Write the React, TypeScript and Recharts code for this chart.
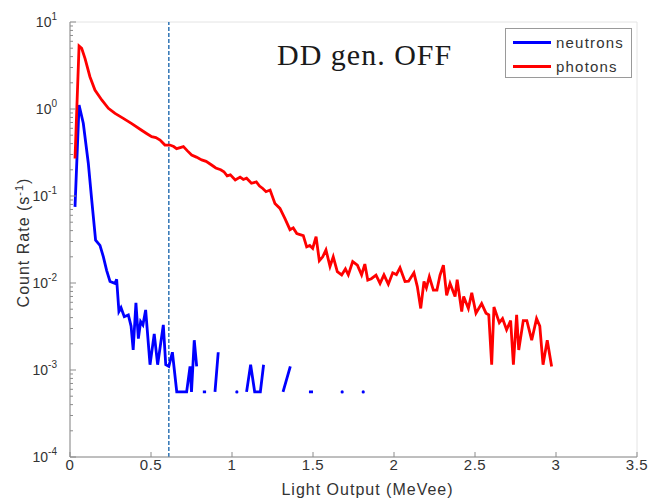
import React from 'react';
import { LineChart, Line, XAxis, YAxis, ReferenceLine, ReferenceArea, Legend } from 'recharts';

// light output (MeVee) / count rate (1/s)
const photonX = [
  0.031, 0.056, 0.072, 0.093, 0.123, 0.154, 0.196, 0.237, 0.278, 0.329, 0.381, 0.442, 0.475, 0.504, 0.53,
  0.556, 0.586, 0.617, 0.64, 0.658, 0.68, 0.7, 0.725, 0.751, 0.78, 0.813, 0.84, 0.874, 0.9, 0.93,
  0.95, 0.97, 0.99, 1.02, 1.05, 1.07, 1.09, 1.12, 1.15, 1.17, 1.19, 1.21, 1.235, 1.265, 1.296,
  1.327, 1.358, 1.378, 1.4, 1.42, 1.44, 1.461, 1.48, 1.498, 1.519, 1.539, 1.56, 1.58, 1.605, 1.625,
  1.65, 1.677, 1.7, 1.718, 1.745, 1.774, 1.8, 1.82, 1.838, 1.86, 1.889, 1.914, 1.938, 1.965, 1.992,
  2.015, 2.037, 2.068, 2.09, 2.123, 2.144, 2.165, 2.185, 2.2, 2.218, 2.243, 2.265, 2.284, 2.305, 2.325,
  2.346, 2.377, 2.39, 2.418, 2.43, 2.459, 2.48, 2.506, 2.541, 2.568, 2.585, 2.603, 2.617, 2.65, 2.67,
  2.695, 2.72, 2.737, 2.757, 2.77, 2.798, 2.82, 2.85, 2.88, 2.9, 2.92, 2.946, 2.973
];
const photonRate = [
  0.27, 5.3, 5.0, 3.8, 2.35, 1.65, 1.27, 1.02, 0.89, 0.78, 0.68, 0.57, 0.52, 0.48, 0.47,
  0.44, 0.385, 0.385, 0.37, 0.35, 0.36, 0.37, 0.33, 0.296, 0.28, 0.26, 0.25, 0.227, 0.21, 0.2,
  0.19, 0.17, 0.175, 0.153, 0.165, 0.155, 0.16, 0.14, 0.145, 0.13, 0.122, 0.112, 0.117, 0.082, 0.072,
  0.055, 0.041, 0.043, 0.037, 0.036, 0.035, 0.026, 0.027, 0.025, 0.034, 0.018, 0.02, 0.024, 0.0155, 0.02,
  0.0135, 0.0124, 0.0145, 0.0124, 0.0176, 0.016, 0.0124, 0.0165, 0.0108, 0.0112, 0.0123, 0.0099, 0.0124, 0.0097, 0.0131,
  0.0125, 0.015, 0.0104, 0.0105, 0.0131, 0.0091, 0.0051, 0.0104, 0.0088, 0.0118, 0.0083, 0.0083, 0.0123, 0.016, 0.0072,
  0.0099, 0.007, 0.0109, 0.0047, 0.007, 0.0051, 0.0077, 0.0045, 0.0058, 0.0045, 0.0043, 0.00115, 0.0053, 0.0035, 0.0039,
  0.0029, 0.0037, 0.00115, 0.0043, 0.0017, 0.0037, 0.0037, 0.0022, 0.0039, 0.0032, 0.00115, 0.0022, 0.0011
];

// null = empty bin (log of zero), the line breaks there
const neutronX = [
  0.031, 0.056, 0.082, 0.113, 0.134, 0.158, 0.185, 0.206, 0.226, 0.247, 0.278, 0.288, 0.302, 0.315, 0.335,
  0.36, 0.377, 0.39, 0.407, 0.422, 0.436, 0.45, 0.467, 0.494, 0.52, 0.541, 0.576, 0.591, 0.61, 0.632,
  0.659, 0.68, 0.7, 0.72, 0.741, 0.75, 0.767, 0.782, 0.8, 0.82, 0.84, 0.86, 0.895, 0.915, 0.94,
  1.03, 1.05, 1.09, 1.115, 1.14, 1.175, 1.195, 1.22, 1.315, 1.36, 1.38, 1.475, 1.5, 1.52, 1.66,
  1.68, 1.7, 1.79, 1.81, 1.83
];
const neutronRate: (number | null)[] = [
  0.075, 1.11, 0.686, 0.238, 0.09, 0.031, 0.027, 0.02, 0.014, 0.0104, 0.0099, 0.011, 0.0047, 0.0052, 0.0041,
  0.0043, 0.0032, 0.0017, 0.0059, 0.0023, 0.0036, 0.0033, 0.0049, 0.00115, 0.0026, 0.00115, 0.0033, 0.00115, 0.0011, 0.0016,
  0.00056, 0.00056, 0.00056, 0.00056, 0.0011, 0.00056, 0.0022, 0.0011, null, 0.00056, 0.00056, null, 0.00056, 0.0016, null,
  0.00056, null, 0.00056, 0.00115, 0.00056, 0.00056, 0.00115, null, 0.00056, 0.0011, null, 0.00056, 0.00056, null, null,
  0.00056, null, null, 0.00056, null
];

const xTicks = [0, 0.5, 1, 1.5, 2, 2.5, 3, 3.5];
const yDecades = [1e-4, 1e-3, 1e-2, 1e-1, 1, 10];
const yTicks = yDecades.flatMap((d) => (d < 10 ? [1, 2, 3, 4, 5, 6, 7, 8, 9].map((m) => m * d) : [d]));
const pulseShapeCut = 0.61;

const photonData = photonX.map((x, i) => ({ x, y: photonRate[i] }));
const neutronData = neutronX.map((x, i) => ({ x, y: neutronRate[i] }));

const sans = '"Liberation Sans", Arial, sans-serif';
const axisColor = '#8c8c8c';

const XTick = ({ x, y, payload }: any) => (
  <g>
    <line x1={x} x2={x} y1={y} y2={y - 5} stroke={axisColor} />
    <text x={x} y={y + 13} textAnchor="middle" fontFamily={sans} fontSize={15} letterSpacing={0.5} fill="#333">
      {payload.value}
    </text>
  </g>
);

const YTick = ({ x, y, payload }: any) => {
  const lg = Math.log10(payload.value);
  const exp = Math.round(lg);
  const major = Math.abs(lg - exp) < 1e-6;
  return (
    <g>
      <line x1={x} x2={x + (major ? 6 : 3)} y1={y} y2={y} stroke={axisColor} />
      {major && (
        <text x={x - 13} y={y + 5} textAnchor="end" fontFamily={sans} fontSize={14} fill="#333">
          10
          <tspan dy={-7} fontSize={10}>{exp}</tspan>
        </text>
      )}
    </g>
  );
};

const YLabel = ({ viewBox }: any) => {
  const cx = viewBox.x + 29;
  const cy = viewBox.y + viewBox.height / 2 + 3;
  return (
    <text x={cx} y={cy} transform={`rotate(-90 ${cx} ${cy})`} textAnchor="middle" fontFamily={sans} fontSize={16} letterSpacing={1} fill="#333">
      Count Rate (s
      <tspan dy={-6} fontSize={11}>-1</tspan>
      <tspan dy={6}>)</tspan>
    </text>
  );
};

const XLabel = ({ viewBox }: any) => (
  <text x={viewBox.x + viewBox.width / 2 + 14} y={viewBox.y + 38} textAnchor="middle" fontFamily={sans} fontSize={16} letterSpacing={1} fill="#333">
    Light Output (MeVee)
  </text>
);

const LegendBox = ({ payload }: any) => (
  <div style={{ width: 125, height: 48, border: '1px solid #9a9a9a', background: '#fff', fontFamily: sans, fontSize: 15, letterSpacing: 1.2, color: '#333' }}>
    {(payload || []).map((entry: any) => (
      <div key={entry.value} style={{ display: 'flex', alignItems: 'center', height: 22, marginTop: 2 }}>
        <span style={{ display: 'inline-block', width: 38, height: 3, background: entry.color, marginLeft: 7, marginRight: 5 }} />
        <span>{entry.value}</span>
      </div>
    ))}
  </div>
);

const renderNeutronDot = (props: any) => {
  const { cx, cy, index } = props;
  const prev = index > 0 ? neutronRate[index - 1] : null;
  const next = index < neutronRate.length - 1 ? neutronRate[index + 1] : null;
  const isolated = neutronRate[index] != null && prev == null && next == null;
  if (!isolated || cx == null || cy == null) return <g key={`nd-${index}`} />;
  return <circle key={`nd-${index}`} cx={cx} cy={cy} r={1.6} fill="#0000ff" />;
};

const App = () => (
  <div style={{ position: 'absolute', left: 0, top: 0, width: 653, height: 502, background: '#fff' }}>
    <LineChart width={653} height={502} margin={{ top: 22, right: 16, left: 0, bottom: 0 }}>
      <XAxis
        dataKey="x"
        type="number"
        domain={[0, 3.5]}
        ticks={xTicks}
        allowDataOverflow
        height={45}
        tickSize={0}
        tickMargin={0}
        tick={<XTick />}
        axisLine={{ stroke: axisColor }}
        label={<XLabel />}
      />
      <YAxis
        type="number"
        scale="log"
        domain={[1e-4, 10]}
        ticks={yTicks}
        allowDataOverflow
        width={70}
        tickSize={0}
        tickMargin={0}
        tick={<YTick />}
        interval={0}
        axisLine={{ stroke: axisColor }}
        label={<YLabel />}
      />
      <ReferenceArea x1={0} x2={3.5} y1={1e-4} y2={10} fill="none" stroke="#e4e4e4" />
      <ReferenceLine x={pulseShapeCut} stroke="#2f74b5" strokeWidth={1.5} strokeDasharray="4 2" />
      <Line
        data={neutronData}
        dataKey="y"
        name="neutrons"
        stroke="#0000ff"
        strokeWidth={2.8}
        dot={renderNeutronDot}
        activeDot={false}
        type="linear"
        isAnimationActive={false}
      />
      <Line
        data={photonData}
        dataKey="y"
        name="photons"
        stroke="#ff0000"
        strokeWidth={2.8}
        dot={false}
        activeDot={false}
        type="linear"
        isAnimationActive={false}
      />
      <Legend
        layout="vertical"
        align="center"
        verticalAlign="middle"
        content={<LegendBox />}
        wrapperStyle={{ left: 505, top: 28, width: 127, height: 50 }}
      />
    </LineChart>
    <div
      style={{
        position: 'absolute',
        left: 277,
        top: 40,
        fontFamily: '"Liberation Serif", "Times New Roman", serif',
        fontSize: 30,
        lineHeight: '30px',
        letterSpacing: 1,
        color: '#1a1a1a',
        whiteSpace: 'nowrap'
      }}
    >
      DD gen. OFF
    </div>
  </div>
);

export default App;
